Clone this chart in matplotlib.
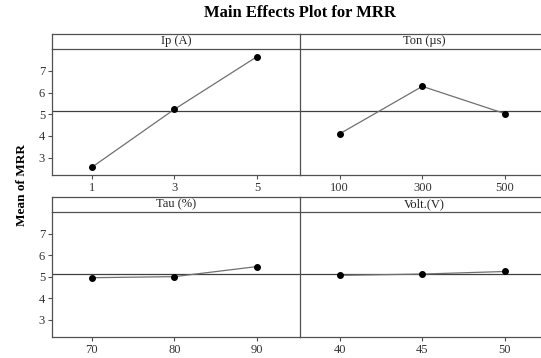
import matplotlib
matplotlib.use("Agg")
import matplotlib.pyplot as plt

# Data
factors = ["Ip (A)", "Ton (\u00b5s)", "Tau (%)", "Volt.(V)"]
levels = [["1", "3", "5"], ["100", "300", "500"], ["70", "80", "90"], ["40", "45", "50"]]
ip_mrr = [2.55, 5.23, 7.66]
ton_mrr = [4.10, 6.29, 5.03]
tau_mrr = [4.95, 5.00, 5.47]
volt_mrr = [5.06, 5.12, 5.24]
means = [ip_mrr, ton_mrr, tau_mrr, volt_mrr]
grand_mean = 5.14
yticks = [3, 4, 5, 6, 7]

plt.rcParams['font.family'] = ['Liberation Serif', 'DejaVu Serif']

fig = plt.figure(figsize=(5.41, 3.58), dpi=100)
fig.patch.set_facecolor("white")

edge = "#505050"
lefts = [0.0961, 0.5545, 0.0961, 0.5545]
bottoms = [0.5112, 0.5112, 0.0595, 0.0595]
heights = [0.3511, 0.3511, 0.3475, 0.3475]
width = 0.4584
strip_h = 0.0436

for i in range(4):
    ax = fig.add_axes([lefts[i], bottoms[i], width, heights[i]])
    x = range(len(levels[i]))
    ax.axhline(grand_mean, color="#404040", lw=0.9, zorder=1)
    ax.plot(x, means[i], color="#707070", lw=0.9, zorder=2)
    ax.plot(x, means[i], "o", color="black", ms=4, zorder=3)
    ax.set_xlim(-0.48, 2.52)
    ax.set_ylim(2.2, 8.0)
    ax.set_xticks(list(x))
    ax.set_xticklabels(levels[i])
    ax.tick_params(axis="x", length=3, width=0.8, color=edge, labelsize=9,
                   labelcolor="#333333", pad=2)
    if i % 2 == 0:
        ax.set_yticks(yticks)
        ax.tick_params(axis="y", length=3, width=0.8, color=edge, labelsize=9,
                       labelcolor="#333333", pad=2)
    else:
        ax.set_yticks([])
    for s in ax.spines.values():
        s.set_color(edge)
        s.set_linewidth(0.9)
    ax.spines["right"].set_visible(False)
    ax.spines["top"].set_visible(False)

    st = fig.add_axes([lefts[i], bottoms[i] + heights[i], width, strip_h])
    st.set_xticks([])
    st.set_yticks([])
    st.set_facecolor("white")
    for s in st.spines.values():
        s.set_color(edge)
        s.set_linewidth(0.9)
    st.spines["right"].set_visible(False)
    st.text(0.5, 0.5, factors[i], ha="center", va="center", fontsize=9,
            color="#222222", transform=st.transAxes)

fig.text(0.555, 0.963, "Main Effects Plot for MRR", ha="center", va="center",
         fontsize=12, fontweight="bold")
fig.text(0.04, 0.483, "Mean of MRR", ha="center", va="center", rotation=90,
         fontsize=9.5, fontweight="bold")

fig.savefig("out.png", dpi=100)
